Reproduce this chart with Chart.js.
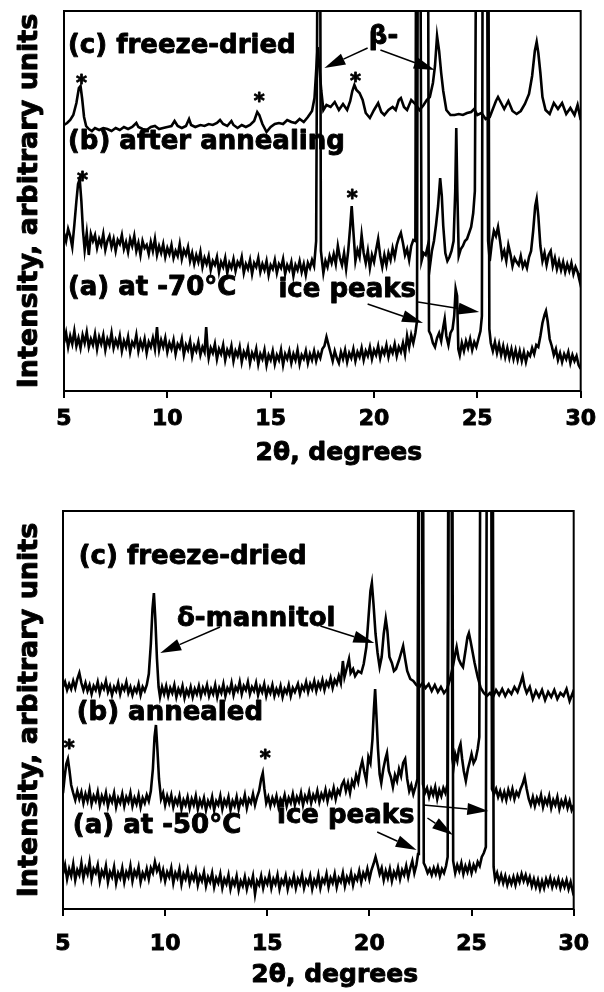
<!DOCTYPE html>
<html>
<head>
<meta charset="utf-8">
<script src="https://cdn.jsdelivr.net/npm/chart.js@4.4.1/dist/chart.umd.min.js"></script>
<style>
  body { margin: 0; background: #fff; }
  canvas { display: block; }
</style>
</head>
<body>
<canvas id="topChart" width="604" height="490"></canvas>
<canvas id="bottomChart" width="604" height="502"></canvas>
<script>
// 2-theta (degrees) / intensity (arbitrary units) pairs
// values above the axis maximum are peaks that run off the top of the frame
const topFreezeDried = [
  [5.0,266],[5.15,268],[5.3,271],[5.45,276],[5.6,288],[5.72,303],[5.8,305],[5.88,292],[5.97,274],[6.07,265],
  [6.2,262],[6.35,260],[6.5,263],[6.7,261],[6.9,263],[7.1,262],[7.3,260],[7.5,263],[7.7,261],[7.9,264],
  [8.1,262],[8.3,264],[8.5,268],[8.6,264],[8.8,262],[9.0,261],[9.2,264],[9.4,265],[9.6,262],[9.8,263],
  [10.0,264],[10.2,265],[10.35,270],[10.5,265],[10.7,263],[10.9,265],[11.05,272],[11.15,266],[11.35,264],[11.6,266],
  [11.8,265],[12.0,267],[12.2,266],[12.4,268],[12.55,271],[12.7,267],[12.9,265],[13.1,270],[13.2,266],[13.4,263],
  [13.6,266],[13.8,264],[14.0,266],[14.2,270],[14.35,279],[14.45,276],[14.6,267],[14.8,259],[15.0,264],[15.2,267],
  [15.4,268],[15.6,267],[15.8,271],[16.0,269],[16.2,268],[16.4,272],[16.6,269],[16.8,274],[17.0,280],[17.12,293],
  [17.2,320],[17.27,344],[17.35,325],[17.45,300],[17.55,281],[17.7,286],[17.9,284],[18.1,289],[18.3,281],[18.5,287],
  [18.7,281],[18.85,290],[18.95,300],[19.05,306],[19.15,301],[19.3,298],[19.45,291],[19.6,278],[19.8,273],[20.0,281],
  [20.2,288],[20.35,279],[20.5,276],[20.7,281],[20.9,284],[21.05,281],[21.2,291],[21.3,293],[21.45,284],[21.6,281],
  [21.8,291],[22.0,287],[22.2,281],[22.4,286],[22.55,291],[22.7,294],[22.85,308],[22.95,325],[23.05,355],[23.15,340],
  [23.25,318],[23.35,300],[23.5,281],[23.7,276],[23.9,276],[24.1,277],[24.3,276],[24.5,278],[24.7,279],[24.85,282],
  [25.0,276],[25.2,278],[25.4,272],[25.6,274],[25.75,282],[25.9,290],[26.0,294],[26.15,288],[26.3,282],[26.5,290],
  [26.7,280],[26.9,277],[27.1,280],[27.3,287],[27.5,297],[27.65,315],[27.78,340],[27.87,349],[27.95,338],[28.05,318],
  [28.15,294],[28.3,281],[28.5,277],[28.7,288],[28.9,282],[29.1,288],[29.3,277],[29.5,283],[29.7,276],[29.85,286],
  [30.0,271]
];

const topAfterAnnealing = [
  [5.0,158],[5.1,150],[5.2,162],[5.3,155],[5.4,144],[5.5,166],[5.6,190],[5.68,207],[5.76,212],[5.84,190],
  [5.92,160],[6.0,141],[6.1,158],[6.2,136],[6.3,157],[6.4,150],[6.5,156],[6.6,143],[6.7,152],[6.8,146],
  [6.9,157],[7.0,141],[7.1,150],[7.2,155],[7.3,144],[7.4,152],[7.5,140],[7.6,151],[7.7,147],[7.8,156],
  [7.9,142],[8.0,149],[8.1,139],[8.2,152],[8.3,145],[8.4,155],[8.5,140],[8.6,148],[8.7,136],[8.8,150],
  [8.9,143],[9.0,146],[9.1,137],[9.2,149],[9.3,140],[9.4,152],[9.5,136],[9.6,145],[9.7,138],[9.8,147],
  [9.9,134],[10.0,143],[10.1,137],[10.2,146],[10.3,133],[10.4,140],[10.5,135],[10.6,147],[10.7,132],[10.8,141],
  [10.9,136],[11.0,144],[11.1,130],[11.2,138],[11.3,127],[11.4,136],[11.5,129],[11.6,139],[11.7,124],[11.8,133],
  [11.9,127],[12.0,135],[12.1,121],[12.2,130],[12.3,126],[12.4,134],[12.5,119],[12.6,129],[12.7,124],[12.8,133],
  [12.9,118],[13.0,128],[13.1,123],[13.2,132],[13.3,120],[13.4,129],[13.5,125],[13.6,134],[13.7,118],[13.8,127],
  [13.9,122],[14.0,131],[14.1,117],[14.2,128],[14.3,124],[14.4,133],[14.5,119],[14.6,127],[14.7,121],[14.8,130],
  [14.9,116],[15.0,126],[15.1,122],[15.2,131],[15.3,118],[15.4,127],[15.5,123],[15.6,132],[15.7,117],[15.8,126],
  [15.9,121],[16.0,129],[16.1,115],[16.2,126],[16.3,121],[16.4,130],[16.5,119],[16.6,127],[16.7,116],[16.8,128],
  [16.9,123],[17.0,131],[17.1,125],[17.2,150],[17.3,600],[17.38,600],[17.43,140],[17.55,118],[17.65,130],[17.75,124],
  [17.85,135],[17.95,128],[18.05,137],[18.15,127],[18.25,145],[18.35,133],[18.45,126],[18.55,138],[18.65,122],[18.75,140],
  [18.85,165],[18.92,185],[19.0,160],[19.1,130],[19.2,141],[19.3,134],[19.4,156],[19.5,138],[19.6,128],[19.7,140],
  [19.8,123],[19.9,136],[20.0,129],[20.1,141],[20.2,152],[20.3,135],[20.4,124],[20.5,136],[20.6,126],[20.7,138],
  [20.8,131],[20.9,143],[21.0,134],[21.1,146],[21.2,153],[21.3,158],[21.4,148],[21.5,136],[21.6,142],[21.7,131],
  [21.8,145],[21.9,151],[22.0,150],[22.05,600],[22.22,600],[22.3,130],[22.4,138],[22.5,136],[22.6,145],[22.7,124],
  [22.8,140],[22.9,150],[23.0,166],[23.1,185],[23.2,213],[23.28,195],[23.35,165],[23.45,138],[23.55,130],[23.65,134],
  [23.75,140],[23.85,150],[23.93,200],[23.98,263],[24.03,200],[24.1,135],[24.2,142],[24.3,145],[24.4,150],[24.5,152],
  [24.6,158],[24.7,164],[24.8,178],[24.88,200],[24.97,600],[25.45,600],[25.52,150],[25.6,130],[25.7,148],[25.8,160],
  [25.9,155],[26.0,164],[26.1,150],[26.2,134],[26.3,140],[26.4,130],[26.5,146],[26.6,137],[26.7,125],[26.8,133],
  [26.9,129],[27.0,126],[27.1,135],[27.2,124],[27.3,129],[27.4,123],[27.5,134],[27.6,140],[27.7,160],[27.8,185],
  [27.87,192],[27.95,175],[28.05,145],[28.15,130],[28.25,138],[28.35,126],[28.45,136],[28.55,140],[28.65,125],[28.75,133],
  [28.85,122],[28.95,130],[29.05,121],[29.15,129],[29.25,119],[29.35,127],[29.45,120],[29.55,128],[29.65,117],[29.75,124],
  [29.85,119],[29.95,110],[30.0,118]
];

const topMinus70 = [
  [5.0,48],[5.1,58],[5.2,44],[5.3,55],[5.4,47],[5.5,60],[5.6,45],[5.7,53],[5.8,43],[5.9,56],
  [6.0,48],[6.1,59],[6.2,44],[6.3,52],[6.4,46],[6.5,57],[6.6,42],[6.7,54],[6.8,47],[6.9,56],
  [7.0,41],[7.1,52],[7.2,46],[7.3,58],[7.4,43],[7.5,51],[7.6,45],[7.7,55],[7.8,40],[7.9,50],
  [8.0,44],[8.1,54],[8.2,39],[8.3,49],[8.4,45],[8.5,56],[8.6,40],[8.7,50],[8.8,43],[8.9,52],
  [9.0,38],[9.1,49],[9.2,44],[9.3,53],[9.4,42],[9.5,64],[9.55,50],[9.6,41],[9.7,51],[9.8,44],
  [9.9,53],[10.0,39],[10.1,48],[10.2,42],[10.3,51],[10.4,37],[10.5,47],[10.6,43],[10.7,52],[10.8,36],
  [10.9,46],[11.0,41],[11.1,50],[11.2,35],[11.3,45],[11.4,40],[11.5,49],[11.6,36],[11.7,44],[11.8,39],
  [11.88,64],[11.95,42],[12.0,33],[12.1,43],[12.2,38],[12.3,47],[12.4,32],[12.5,42],[12.6,37],[12.7,46],
  [12.8,31],[12.9,41],[13.0,36],[13.1,45],[13.2,30],[13.3,40],[13.4,35],[13.5,44],[13.6,29],[13.7,39],
  [13.8,34],[13.9,43],[14.0,28],[14.1,38],[14.2,33],[14.3,42],[14.4,27],[14.5,37],[14.6,32],[14.7,41],
  [14.8,26],[14.9,36],[15.0,31],[15.1,40],[15.2,27],[15.3,36],[15.4,31],[15.5,41],[15.6,26],[15.7,37],
  [15.8,32],[15.9,40],[16.0,28],[16.1,37],[16.2,31],[16.3,41],[16.4,27],[16.5,36],[16.6,32],[16.7,40],
  [16.8,28],[16.9,37],[17.0,31],[17.1,40],[17.2,30],[17.3,38],[17.4,33],[17.5,42],[17.6,45],[17.7,54],
  [17.8,46],[17.9,38],[18.0,30],[18.1,40],[18.2,33],[18.3,28],[18.4,39],[18.5,32],[18.6,41],[18.7,29],
  [18.8,38],[18.9,33],[19.0,42],[19.1,30],[19.2,39],[19.3,34],[19.4,43],[19.5,31],[19.6,40],[19.7,35],
  [19.8,44],[19.9,32],[20.0,41],[20.1,36],[20.2,45],[20.3,33],[20.4,42],[20.5,37],[20.6,46],[20.7,34],
  [20.8,43],[20.9,38],[21.0,47],[21.1,35],[21.2,44],[21.3,39],[21.4,48],[21.5,37],[21.6,55],[21.7,44],
  [21.8,56],[21.9,48],[22.0,58],[22.08,70],[22.13,600],[22.6,600],[22.66,60],[22.75,56],[22.85,48],[22.95,44],
  [23.05,53],[23.15,58],[23.25,50],[23.35,64],[23.42,72],[23.5,55],[23.6,46],[23.7,58],[23.8,62],[23.88,75],
  [23.95,102],[24.02,95],[24.08,42],[24.15,36],[24.25,48],[24.35,40],[24.45,50],[24.55,43],[24.65,52],[24.75,41],
  [24.85,49],[24.95,44],[25.05,52],[25.15,60],[25.22,75],[25.27,600],[25.52,600],[25.58,62],[25.65,48],[25.75,40],
  [25.85,49],[25.95,38],[26.05,47],[26.15,36],[26.25,45],[26.35,34],[26.45,43],[26.55,33],[26.65,42],[26.75,32],
  [26.85,41],[26.95,31],[27.05,40],[27.15,30],[27.25,39],[27.35,29],[27.45,38],[27.55,35],[27.65,43],[27.75,37],
  [27.85,46],[27.95,44],[28.05,55],[28.15,68],[28.25,76],[28.32,80],[28.4,70],[28.5,52],[28.6,45],[28.7,36],
  [28.8,42],[28.9,31],[29.0,38],[29.1,29],[29.2,37],[29.3,32],[29.4,39],[29.5,28],[29.6,36],[29.7,30],
  [29.8,35],[29.9,26],[30.0,22]
];

const bottomFreezeDried = [
  [5.0,222],[5.1,227],[5.2,219],[5.3,225],[5.4,220],[5.5,228],[5.6,221],[5.7,230],[5.8,236],[5.9,226],
  [6.0,219],[6.1,226],[6.2,218],[6.3,224],[6.4,215],[6.5,223],[6.6,219],[6.7,227],[6.8,216],[6.9,224],
  [7.0,220],[7.1,228],[7.2,217],[7.3,223],[7.4,214],[7.5,222],[7.6,218],[7.7,226],[7.8,215],[7.9,223],
  [8.0,219],[8.1,227],[8.2,216],[8.3,222],[8.4,214],[8.5,221],[8.6,217],[8.7,225],[8.8,214],[8.9,222],
  [9.0,218],[9.1,224],[9.2,235],[9.3,265],[9.38,300],[9.45,316],[9.52,290],[9.6,250],[9.68,222],[9.75,212],
  [9.85,222],[9.95,215],[10.05,223],[10.15,213],[10.25,221],[10.35,216],[10.45,224],[10.55,212],[10.65,220],[10.75,215],
  [10.85,223],[10.95,211],[11.05,219],[11.15,214],[11.25,222],[11.35,212],[11.45,220],[11.55,215],[11.65,223],[11.75,213],
  [11.85,221],[11.95,216],[12.05,224],[12.15,213],[12.25,220],[12.35,215],[12.45,224],[12.55,212],[12.65,221],[12.75,216],
  [12.85,225],[12.95,213],[13.05,221],[13.15,217],[13.25,226],[13.35,214],[13.45,222],[13.55,218],[13.65,227],[13.75,215],
  [13.85,223],[13.95,219],[14.05,227],[14.15,215],[14.25,222],[14.35,218],[14.45,226],[14.55,214],[14.65,222],[14.75,217],
  [14.85,225],[14.95,213],[15.05,221],[15.15,216],[15.25,224],[15.35,213],[15.45,220],[15.55,215],[15.65,223],[15.75,212],
  [15.85,220],[15.95,216],[16.05,224],[16.15,213],[16.25,221],[16.35,217],[16.5,225],[16.6,215],[16.7,223],[16.8,219],
  [16.9,227],[17.0,217],[17.1,225],[17.2,220],[17.3,228],[17.4,218],[17.5,226],[17.6,221],[17.7,229],[17.8,219],
  [17.9,227],[18.0,223],[18.1,231],[18.2,221],[18.3,229],[18.4,225],[18.5,233],[18.6,226],[18.7,248],[18.78,232],
  [18.88,240],[19.0,250],[19.08,236],[19.2,240],[19.3,233],[19.45,238],[19.6,236],[19.72,245],[19.85,262],[19.95,290],
  [20.05,318],[20.12,326],[20.2,305],[20.3,275],[20.4,256],[20.5,242],[20.6,252],[20.7,275],[20.8,290],[20.88,278],
  [20.98,252],[21.1,246],[21.2,238],[21.3,240],[21.45,249],[21.55,256],[21.65,263],[21.75,250],[21.85,238],[22.0,230],
  [22.15,228],[22.3,224],[22.45,222],[22.6,226],[22.75,221],[22.9,225],[23.05,218],[23.2,224],[23.35,217],[23.5,222],
  [23.65,216],[23.8,220],[23.95,230],[24.1,244],[24.2,255],[24.27,262],[24.37,250],[24.48,245],[24.58,242],[24.7,258],
  [24.8,272],[24.87,276],[24.95,268],[25.05,257],[25.15,246],[25.3,232],[25.45,221],[25.6,216],[25.75,213],[25.9,216],
  [26.05,212],[26.2,219],[26.35,214],[26.5,220],[26.65,213],[26.8,219],[26.95,215],[27.1,222],[27.25,217],[27.4,226],
  [27.5,233],[27.6,222],[27.7,216],[27.85,222],[28.0,210],[28.15,218],[28.3,212],[28.45,219],[28.6,209],[28.75,217],
  [28.9,212],[29.05,219],[29.2,210],[29.35,216],[29.5,213],[29.65,220],[29.8,208],[29.95,216],[30.0,212]
];

const bottomAnnealed = [
  [5.0,116],[5.08,132],[5.16,145],[5.24,150],[5.32,138],[5.4,124],[5.5,116],[5.6,109],[5.7,118],[5.8,110],
  [5.9,117],[6.0,106],[6.1,115],[6.2,108],[6.3,119],[6.4,105],[6.5,113],[6.6,108],[6.7,117],[6.8,104],
  [6.9,113],[7.0,107],[7.1,116],[7.2,103],[7.3,112],[7.4,107],[7.5,116],[7.6,102],[7.7,111],[7.8,106],
  [7.9,115],[8.0,103],[8.1,112],[8.2,107],[8.3,116],[8.4,103],[8.5,111],[8.6,105],[8.7,114],[8.8,102],
  [8.9,111],[9.0,106],[9.1,114],[9.2,108],[9.3,118],[9.4,140],[9.48,172],[9.55,184],[9.62,160],[9.7,130],
  [9.8,110],[9.9,116],[10.0,104],[10.1,113],[10.2,106],[10.3,114],[10.4,102],[10.5,110],[10.6,105],[10.7,113],
  [10.8,100],[10.9,109],[11.0,104],[11.1,112],[11.2,101],[11.3,110],[11.4,104],[11.5,113],[11.6,100],[11.7,109],
  [11.8,103],[11.9,111],[12.0,99],[12.1,108],[12.2,103],[12.3,112],[12.4,99],[12.5,108],[12.6,104],[12.7,113],
  [12.8,100],[12.9,109],[13.0,104],[13.1,112],[13.2,99],[13.3,108],[13.4,103],[13.5,112],[13.6,100],[13.7,109],
  [13.8,105],[13.9,114],[14.0,101],[14.1,110],[14.2,106],[14.3,115],[14.4,104],[14.5,112],[14.6,118],[14.7,130],
  [14.78,136],[14.86,120],[14.95,106],[15.05,112],[15.15,103],[15.25,111],[15.35,105],[15.45,113],[15.55,102],[15.65,110],
  [15.75,106],[15.85,114],[15.95,103],[16.05,111],[16.15,106],[16.25,115],[16.35,104],[16.45,112],[16.55,107],[16.65,116],
  [16.75,104],[16.85,113],[16.95,108],[17.05,117],[17.15,106],[17.25,114],[17.35,109],[17.45,118],[17.55,107],[17.65,115],
  [17.75,110],[17.85,119],[17.95,108],[18.05,117],[18.15,112],[18.25,121],[18.35,110],[18.45,119],[18.55,115],[18.65,124],
  [18.75,128],[18.85,118],[18.95,126],[19.05,116],[19.15,128],[19.25,123],[19.35,134],[19.45,127],[19.55,140],[19.65,148],
  [19.75,137],[19.85,128],[19.95,152],[20.05,146],[20.15,170],[20.22,200],[20.28,220],[20.34,195],[20.42,160],[20.5,135],
  [20.58,126],[20.68,140],[20.78,150],[20.86,156],[20.95,138],[21.05,132],[21.15,122],[21.25,134],[21.35,128],[21.45,140],
  [21.55,133],[21.65,146],[21.75,150],[21.85,130],[21.95,118],[22.05,124],[22.15,115],[22.25,122],[22.35,130],[22.42,600],
  [22.55,600],[22.62,125],[22.72,116],[22.82,121],[22.92,112],[23.02,120],[23.12,114],[23.22,122],[23.32,110],[23.42,119],
  [23.52,113],[23.62,121],[23.72,116],[23.82,125],[23.88,600],[24.0,600],[24.06,150],[24.12,142],[24.2,155],[24.3,148],
  [24.38,160],[24.46,165],[24.54,150],[24.62,138],[24.72,128],[24.82,140],[24.92,148],[25.0,155],[25.1,146],[25.2,150],
  [25.3,160],[25.38,172],[25.45,600],[25.95,600],[26.0,120],[26.1,115],[26.2,120],[26.3,112],[26.4,118],[26.5,110],
  [26.6,117],[26.7,109],[26.8,119],[26.9,112],[27.0,120],[27.1,110],[27.2,117],[27.3,113],[27.4,120],[27.5,125],
  [27.6,132],[27.7,120],[27.8,110],[27.9,104],[28.0,112],[28.1,103],[28.2,111],[28.3,106],[28.4,114],[28.5,102],
  [28.6,110],[28.7,105],[28.8,113],[28.9,101],[29.0,109],[29.1,104],[29.2,112],[29.3,100],[29.4,108],[29.5,103],
  [29.6,110],[29.7,101],[29.8,108],[29.9,99],[30.0,104]
];

const bottomMinus50 = [
  [5.0,35],[5.1,44],[5.2,30],[5.3,40],[5.4,33],[5.5,45],[5.6,29],[5.7,39],[5.8,34],[5.9,46],
  [6.0,31],[6.1,41],[6.2,35],[6.3,47],[6.4,30],[6.5,40],[6.6,36],[6.7,44],[6.8,28],[6.9,38],
  [7.0,33],[7.1,43],[7.2,27],[7.3,37],[7.4,32],[7.5,42],[7.6,26],[7.7,36],[7.8,31],[7.9,41],
  [8.0,27],[8.1,37],[8.2,32],[8.3,43],[8.4,28],[8.5,38],[8.6,33],[8.7,42],[8.8,27],[8.9,36],
  [9.0,31],[9.1,40],[9.2,30],[9.3,41],[9.4,36],[9.5,47],[9.6,38],[9.7,43],[9.8,31],[9.9,39],
  [10.0,28],[10.1,37],[10.2,32],[10.3,41],[10.4,26],[10.5,36],[10.6,31],[10.7,40],[10.8,25],[10.9,35],
  [11.0,30],[11.1,39],[11.2,26],[11.3,34],[11.4,29],[11.5,38],[11.6,24],[11.7,33],[11.8,28],[11.9,37],
  [12.0,23],[12.1,32],[12.2,27],[12.3,36],[12.4,22],[12.5,31],[12.6,26],[12.7,35],[12.8,21],[12.9,30],
  [13.0,25],[13.1,34],[13.2,20],[13.3,29],[13.4,24],[13.5,33],[13.6,19],[13.7,28],[13.8,23],[13.9,32],
  [14.0,20],[14.1,29],[14.2,24],[14.3,33],[14.4,15],[14.5,28],[14.6,24],[14.7,33],[14.8,21],[14.9,30],
  [15.0,25],[15.1,34],[15.2,21],[15.3,30],[15.4,25],[15.5,34],[15.6,20],[15.7,29],[15.8,25],[15.9,33],
  [16.0,20],[16.1,29],[16.2,24],[16.3,33],[16.4,21],[16.5,30],[16.6,25],[16.7,34],[16.8,21],[16.9,29],
  [17.0,25],[17.1,33],[17.2,20],[17.3,29],[17.4,24],[17.5,34],[17.6,21],[17.7,30],[17.8,26],[17.9,35],
  [18.0,22],[18.1,31],[18.2,26],[18.3,35],[18.4,22],[18.5,31],[18.6,27],[18.7,36],[18.8,23],[18.9,32],
  [19.0,27],[19.1,36],[19.2,24],[19.3,33],[19.4,29],[19.5,38],[19.6,27],[19.7,36],[19.8,31],[19.9,40],
  [20.0,30],[20.1,39],[20.2,45],[20.3,52],[20.4,44],[20.5,35],[20.6,41],[20.7,29],[20.8,38],[20.9,31],
  [21.0,40],[21.1,28],[21.2,37],[21.3,32],[21.4,41],[21.5,30],[21.6,39],[21.7,34],[21.8,43],[21.9,32],
  [22.0,41],[22.1,48],[22.2,36],[22.3,44],[22.38,55],[22.42,600],[22.62,600],[22.66,46],[22.75,42],[22.85,36],
  [22.95,40],[23.05,34],[23.15,41],[23.25,35],[23.35,42],[23.45,33],[23.55,40],[23.65,36],[23.75,43],[23.83,52],
  [23.9,600],[24.05,600],[24.1,48],[24.2,36],[24.3,44],[24.4,38],[24.5,46],[24.6,35],[24.7,43],[24.8,37],
  [24.9,45],[25.0,36],[25.1,44],[25.2,39],[25.3,47],[25.4,43],[25.5,52],[25.6,56],[25.7,62],[25.76,600],
  [26.03,600],[26.08,42],[26.15,30],[26.25,36],[26.35,27],[26.45,34],[26.55,26],[26.65,33],[26.75,24],[26.85,31],
  [26.95,25],[27.05,32],[27.15,24],[27.25,33],[27.35,27],[27.45,35],[27.55,28],[27.65,34],[27.75,26],[27.85,32],
  [27.95,23],[28.05,30],[28.15,22],[28.25,29],[28.35,20],[28.45,28],[28.55,21],[28.65,30],[28.75,24],[28.85,31],
  [28.95,22],[29.05,29],[29.15,23],[29.25,30],[29.35,21],[29.45,28],[29.55,22],[29.65,29],[29.75,20],[29.85,27],
  [29.95,18],[30.0,22]
];

const xTicks = [5, 10, 15, 20, 25, 30];
const xTitle = '2θ, degrees';
const yTitle = 'Intensity, arbitrary units';

// labels, stars and arrows, placed in data units (2-theta, intensity)
const topNotes = {
  labels: [
    { text: '(c) freeze-dried', at: [5.19, 338] },
    { text: '(b) after annealing', at: [5.19, 242] },
    { text: '(a) at -70°C', at: [5.19, 96] },
    { text: 'ice peaks', at: [22.03, 94], align: 'right' },
    { text: 'β-', at: [20.46, 347], align: 'center' }
  ],
  stars: [[5.85, 313], [14.45, 295], [19.1, 315], [5.9, 216], [18.95, 198]],
  arrows: [
    [[19.69, 343], [17.6, 323]],
    [[20.31, 341], [22.94, 321]],
    [[19.69, 87], [22.37, 68]],
    [[22.13, 89], [25.09, 79]]
  ]
};

const bottomNotes = {
  labels: [
    { text: '(c) freeze-dried', at: [5.77, 345] },
    { text: 'δ-mannitol', at: [10.58, 283] },
    { text: '(b) annealed', at: [5.67, 189] },
    { text: '(a) at -50°C', at: [5.48, 76] },
    { text: 'ice peaks', at: [22.21, 86], align: 'right' }
  ],
  stars: [[5.3, 166], [14.9, 156]],
  arrows: [
    [[12.69, 282], [9.76, 256]],
    [[17.6, 283], [20.24, 266]],
    [[20.38, 77], [22.31, 59]],
    [[22.84, 91], [24.09, 74]],
    [[22.64, 104], [25.82, 98]]
  ]
};

const FONT = '"DejaVu Sans", "Liberation Sans", sans-serif';
Chart.defaults.font.family = FONT;
Chart.defaults.color = '#000';

// bold text with a thin outline, the scan makes every glyph heavy
function drawText(ctx, text, x, y, size, align, rot) {
  ctx.save();
  ctx.translate(x, y);
  if (rot) ctx.rotate(rot);
  ctx.font = 'bold ' + size + 'px ' + FONT;
  ctx.textAlign = align;
  ctx.textBaseline = 'alphabetic';
  ctx.fillStyle = '#000';
  ctx.strokeStyle = '#000';
  ctx.lineWidth = 0.9;
  ctx.lineJoin = 'round';
  ctx.fillText(text, 0, 0);
  ctx.strokeText(text, 0, 0);
  ctx.restore();
}

function drawArrow(ctx, x1, y1, x2, y2) {
  const ang = Math.atan2(y2 - y1, x2 - x1);
  const len = 21, half = 6;
  const bx = x2 - len * Math.cos(ang), by = y2 - len * Math.sin(ang);
  ctx.beginPath();
  ctx.moveTo(x1, y1);
  ctx.lineTo(bx, by);
  ctx.lineWidth = 1.5;
  ctx.stroke();
  ctx.beginPath();
  ctx.moveTo(x2, y2);
  ctx.lineTo(bx + half * Math.sin(ang), by - half * Math.cos(ang));
  ctx.lineTo(bx - half * Math.sin(ang), by + half * Math.cos(ang));
  ctx.closePath();
  ctx.fill();
}

function notesPlugin(notes, cfg) {
  return {
    id: 'notes',
    afterDraw(chart) {
      const { ctx, chartArea: a, scales: { x, y } } = chart;
      ctx.save();
      ctx.strokeStyle = '#000';
      ctx.fillStyle = '#000';
      ctx.lineWidth = 2;
      ctx.strokeRect(a.left, a.top, a.right - a.left, a.bottom - a.top);
      // axis titles
      drawText(ctx, xTitle, x.getPixelForValue(cfg.xTitleAt), a.bottom + cfg.xTitleDrop, 25, 'center');
      drawText(ctx, yTitle, 37, (a.top + a.bottom) / 2, 27, 'center', -Math.PI / 2);
      notes.labels.forEach(l => {
        drawText(ctx, l.text, x.getPixelForValue(l.at[0]), y.getPixelForValue(l.at[1]), 26, l.align || 'left');
      });
      notes.stars.forEach(s => {
        drawText(ctx, '*', x.getPixelForValue(s[0]), y.getPixelForValue(s[1]) + 12, 21, 'center');
      });
      notes.arrows.forEach(ar => {
        drawArrow(ctx, x.getPixelForValue(ar[0][0]), y.getPixelForValue(ar[0][1]),
          x.getPixelForValue(ar[1][0]), y.getPixelForValue(ar[1][1]));
      });
      ctx.restore();
    }
  };
}

function toPoints(pairs) {
  return pairs.map(p => ({ x: p[0], y: p[1] }));
}

function makeChart(id, series, cfg) {
  return new Chart(document.getElementById(id), {
    type: 'line',
    data: {
      datasets: series.map(s => ({
        data: toPoints(s),
        borderColor: '#000',
        borderWidth: 2.6,
        pointRadius: 0,
        tension: 0
      }))
    },
    options: {
      responsive: false,
      animation: false,
      layout: { padding: { top: cfg.padTop, right: cfg.padRight, left: 0, bottom: 0 } },
      plugins: { legend: { display: false }, tooltip: { enabled: false } },
      scales: {
        x: {
          type: 'linear',
          min: 5,
          max: 30,
          afterBuildTicks: s => { s.ticks = xTicks.map(v => ({ value: v })); },
          afterFit: s => { s.height = cfg.xHeight; },
          border: { display: false },
          grid: { drawOnChartArea: false, drawTicks: true, tickLength: 7, color: '#000', lineWidth: 2 },
          ticks: {
            font: { size: 22, weight: 'bold' }, padding: cfg.tickPad, maxRotation: 0, color: '#000',
            textStrokeColor: '#000', textStrokeWidth: 0.9
          },
          title: { display: false }
        },
        y: {
          min: 0,
          max: cfg.yMax,
          afterFit: s => { s.width = cfg.yWidth; },
          border: { display: false },
          grid: { display: false },
          ticks: { display: false },
          title: { display: false }
        }
      }
    },
    plugins: [notesPlugin(cfg.notes, cfg)]
  });
}

makeChart('topChart', [topFreezeDried, topAfterAnnealing, topMinus70], {
  padTop: 11, padRight: 16, xHeight: 99, yWidth: 64, yMax: 380, tickPad: 8,
  xTitleAt: 18.3, xTitleDrop: 69, notes: topNotes
});

makeChart('bottomChart', [bottomFreezeDried, bottomAnnealed, bottomMinus50], {
  padTop: 21, padRight: 21, xHeight: 83, yWidth: 63, yMax: 398, tickPad: 15,
  xTitleAt: 18.3, xTitleDrop: 73, notes: bottomNotes
});
</script>
</body>
</html>
